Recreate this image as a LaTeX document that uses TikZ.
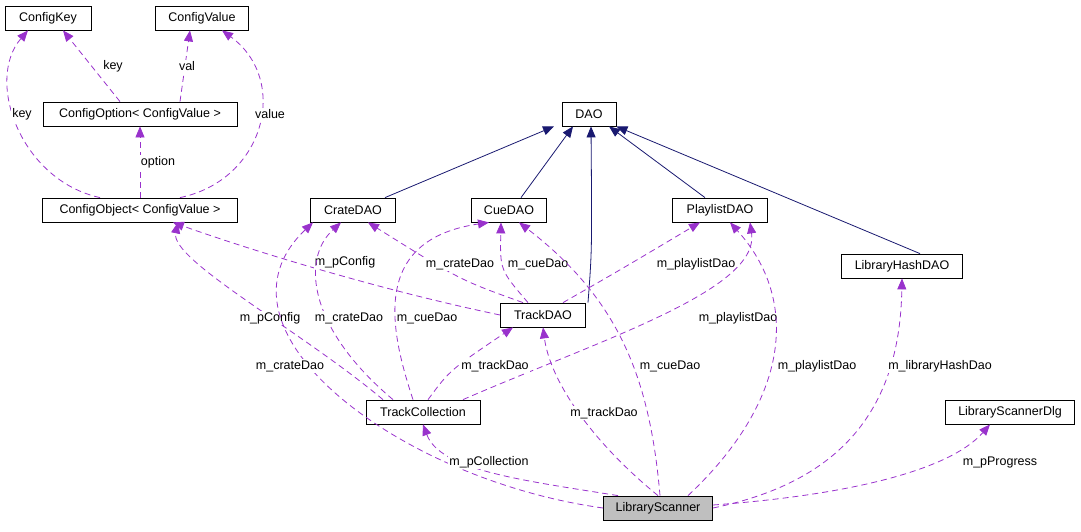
\documentclass[tikz,border=0pt]{standalone}
\usepackage{fontspec}
\setmainfont{Liberation Sans}
\usetikzlibrary{arrows.meta}
\begin{document}
\begin{tikzpicture}[x=1pt,y=-1pt,
  box/.style={draw,thick,fill=white,inner sep=0pt,minimum height=24pt,font=\fontsize{12.5}{14}\selectfont},
  dep/.style={draw={rgb,255:red,153;green,50;blue,204},thick,dashed,dash pattern=on 6pt off 4pt,-{Triangle[length=11pt,width=9pt,fill={rgb,255:red,153;green,50;blue,204}]}},
  inh/.style={draw={rgb,255:red,25;green,25;blue,112},thick,-{Triangle[length=11pt,width=9pt]}},
  lab/.style={font=\fontsize{12.5}{14}\selectfont,fill=white,inner sep=1pt}]
\useasboundingbox (0,0) rectangle (1081,531);
\node[box,minimum width=86pt] (ckey) at (48,18) {ConfigKey};
\node[box,minimum width=93pt] (cval) at (202,18) {ConfigValue};
\node[box,minimum width=194pt] (copt) at (140,114) {ConfigOption< ConfigValue >};
\node[box,minimum width=195pt] (cobj) at (140,210) {ConfigObject< ConfigValue >};
\node[box,minimum width=54pt] (dao) at (589,114) {DAO};
\node[box,minimum width=85pt] (crate) at (353,210) {CrateDAO};
\node[box,minimum width=75pt] (cue) at (509,210) {CueDAO};
\node[box,minimum width=95pt] (pl) at (720,210) {PlaylistDAO};
\node[box,minimum width=121pt] (lh) at (902,266) {LibraryHashDAO};
\node[box,minimum width=85pt] (tdao) at (543,315) {TrackDAO};
\node[box,minimum width=114pt] (tc) at (423,412) {TrackCollection};
\node[box,minimum width=129pt] (dlg) at (1010,412) {LibraryScannerDlg};
\node[box,minimum width=109pt,fill={rgb,255:red,191;green,191;blue,191}] (ls) at (658,508) {LibraryScanner};

% inheritance
\draw[inh] ([xshift=32]crate.north) -- ([xshift=-35]dao.south);
\draw[inh] ([xshift=12]cue.north) -- ([xshift=-16]dao.south);
\draw[inh] ([xshift=45]tdao.north) .. controls (592,250) .. ([xshift=2]dao.south);
\draw[inh] ([xshift=-15]pl.north) -- ([xshift=20]dao.south);
\draw[inh] ([xshift=18]lh.north) -- (dao.south east);

% config
\draw[dep] ([xshift=-20]copt.north) -- ([xshift=15]ckey.south);
\draw[dep] ([xshift=40]copt.north) -- ([xshift=-12]cval.south);
\draw[dep] ([xshift=-40]cobj.north) .. controls (20,180) and (-15,80) .. ([xshift=-20]ckey.south);
\draw[dep] ([xshift=40]cobj.north) .. controls (265,180) and (290,80) .. ([xshift=20]cval.south);
\draw[dep] (cobj.north) -- (copt.south);
\node[lab] at (113,66) {key};
\node[lab] at (187,66) {val};
\node[lab] at (22,114) {key};
\node[lab] at (270,114) {value};
\node[lab] at (158,162) {option};

% TrackDAO
\draw[dep] (tdao.west) .. controls (380,290) and (250,250) .. ([xshift=-65]cobj.south east);
\draw[dep] ([xshift=-20]tdao.north) .. controls (460,280) .. ([xshift=15]crate.south);
\draw[dep] ([xshift=-15]tdao.north) .. controls (500,270) .. ([xshift=-8]cue.south);
\draw[dep] ([xshift=20]tdao.north) .. controls (620,270) .. ([xshift=-20]pl.south);
\node[lab] at (345,262) {m\_pConfig};
\node[lab] at (460,264) {m\_crateDao};
\node[lab] at (538,264) {m\_cueDao};
\node[lab] at (696,264) {m\_playlistDao};

% TrackCollection
\draw[dep] ([xshift=-40]tc.north) .. controls (300,330) and (170,260) .. ([xshift=-60]cobj.south east);
\draw[dep] ([xshift=-30]tc.north) .. controls (310,330) and (300,260) .. ([xshift=-12]crate.south);
\draw[dep] ([xshift=-10]tc.north) .. controls (390,330) and (370,240) .. ([xshift=-20]cue.south);
\draw[dep] ([xshift=40]tc.north) .. controls (600,340) and (760,290) .. ([xshift=30]pl.south);
\draw[dep] ([xshift=5]tc.north) .. controls (450,370) .. ([xshift=-30]tdao.south);
\node[lab] at (270,318) {m\_pConfig};
\node[lab] at (349,318) {m\_crateDao};
\node[lab] at (427,318) {m\_cueDao};
\node[lab] at (738,318) {m\_playlistDao};
\node[lab] at (495,366) {m\_trackDao};

% LibraryScanner
\draw[dep] (ls.west) .. controls (400,480) and (200,330) .. ([xshift=-40]crate.south);
\draw[dep] ([xshift=-40]ls.north) .. controls (520,480) and (440,470) .. (tc.south);
\draw[dep] (ls.north) .. controls (590,440) and (550,380) .. (tdao.south);
\draw[dep] ([xshift=2]ls.north) .. controls (650,380) and (620,300) .. ([xshift=10]cue.south);
\draw[dep] ([xshift=30]ls.north) .. controls (790,400) and (800,300) .. ([xshift=10]pl.south);
\draw[dep] (ls.east) .. controls (850,480) and (900,400) .. (lh.south);
\draw[dep] ([yshift=3]ls.east) .. controls (850,495) and (950,470) .. ([xshift=-20]dlg.south);
\node[lab] at (290,366) {m\_crateDao};
\node[lab] at (489,462) {m\_pCollection};
\node[lab] at (604,413) {m\_trackDao};
\node[lab] at (670,366) {m\_cueDao};
\node[lab] at (817,366) {m\_playlistDao};
\node[lab] at (940,366) {m\_libraryHashDao};
\node[lab] at (1000,462) {m\_pProgress};
\end{tikzpicture}
\end{document}
